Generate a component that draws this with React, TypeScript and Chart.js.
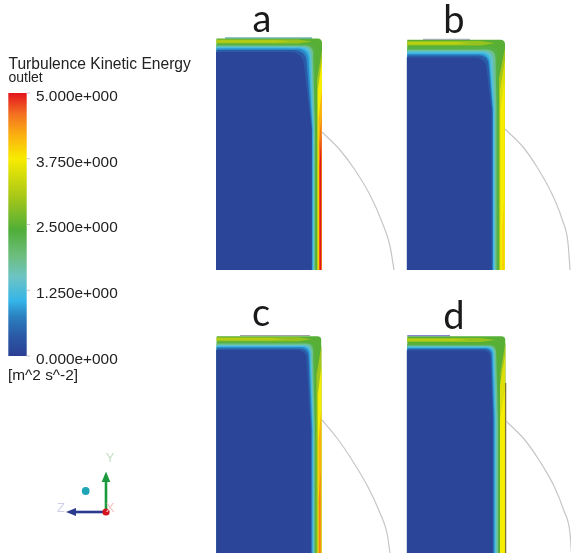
import React, { useEffect, useRef } from "react";
import { Chart, registerables } from "chart.js";

Chart.register(...registerables);

const WIDTH = 571;
const HEIGHT = 553;

// Colour map: value -> colour
const colorLevels = [0, 0.4, 0.75, 1.05, 1.5, 1.9, 2.4, 3.0, 3.75, 4.2, 4.6, 5];
const colorStops = ["#2b3f93", "#2a5ba8", "#2a80c0", "#35b5e8", "#6cc4c4", "#6dbe7f", "#50ae38", "#a4c61a", "#f8ec00", "#fbb010", "#f37021", "#e3141f"];
const legendTicks = [5, 3.75, 2.5, 1.25, 0];
const legendTickLabels = ["5.000e+000", "3.750e+000", "2.500e+000", "1.250e+000", "0.000e+000"];

// Contours falling from the wall to the core
const innerLevels = [2.3, 1.8, 1.4, 1.1, 0.8, 0.4, 0.1];

const aBox = [216.5, 38, 322, 270];
const aTop = [44, 45.5, 46.5, 47.5, 48.5, 50, 52];
const aXTop = [315, 313, 311.5, 310, 308.5, 306.5, 304];
const aXBottom = [316, 315, 314, 313, 312.5, 312, 311.5];
const aRadius = [6, 7, 8, 9, 10, 11, 13];
const aWallLevels = [3.0, 3.75, 4.2, 4.6, 5.0];
const aWallStart = [50, 60, 90, 115, 135];
const aWallInner = [317, 317.8, 318.5, 319, 319.6];
const aWallOuter = [322, 322, 321.8, 321.5, 321.3];

const bBox = [407.3, 39.3, 505, 270];
const bTop = [47, 49.5, 51, 52.5, 54, 55.5, 57.5];
const bXTop = [497.5, 495.5, 493, 490.5, 489.5, 488.5, 486.5];
const bXBottom = [498.5, 496.5, 495, 494, 493, 492.5, 491.5];
const bRadius = [7, 8, 8, 8, 9, 9, 11];
const bWallLevels = [3.0, 3.5, 3.75, 3.95];
const bWallStart = [48, 60, 80, 200];
const bWallInner = [499, 500, 500.5, 502];
const bWallOuter = [505, 505, 504.6, 504];

const cBox = [216.7, 335.7, 321.5, 553];
const cTop = [342, 343.5, 345, 346, 347, 348.5, 350];
const cXTop = [314.5, 313, 311.5, 310.5, 309.5, 308.5, 306.5];
const cXBottom = [316, 314.8, 313.8, 313, 312.3, 311.5, 310.7];
const cRadius = [6, 6, 7, 7, 7, 8, 9];
const cWallLevels = [3.0, 3.75, 4.2, 4.5];
const cWallStart = [345, 365, 410, 470];
const cWallInner = [316.5, 317.8, 318.5, 318.8];
const cWallOuter = [321.5, 321.5, 321.2, 320.6];

const dBox = [407.3, 335.7, 505.5, 553];
const dTop = [344, 345.5, 346.3, 347, 348, 349, 350.5];
const dXTop = [497, 496, 494.5, 493.5, 492.5, 491.5, 490.5];
const dXBottom = [499.2, 498, 496.5, 495.3, 494.5, 493.5, 492.7];
const dRadius = [6, 6, 6, 6, 6, 6, 7];
const dWallLevels = [3.0, 3.5, 3.75];
const dWallStart = [342, 355, 390];
const dWallInner = [500.5, 500, 500];
const dWallOuter = [505.5, 505, 504.8];

// Band along the top wall: value, upper y, lower y, right end
const aRidge = [[2.9, 39.5, 43.5, 312], [3.15, 40.3, 42.5, 290]];
const bRidge = [[2.9, 41, 45.5, 495], [3.2, 42, 44.5, 470]];
const cRidge = [[2.9, 337.2, 341.2, 312], [3.15, 338, 340.3, 285]];
const dRidge = [[2.9, 338, 342, 495], [3.15, 338.8, 341, 470]];

const aKnee = 130;
const bKnee = 110;
const cKnee = 430;
const dKnee = 420;

// Thin line on the top edge: x from, x to, y, colour
const topLines: [number, number, number, string][] = [
  [225, 312, 38, "#2f8f7f"],
  [423, 470, 39.3, "#9aa0a8"],
  [240, 310, 335.5, "#a0a4a8"],
  [407.3, 450, 335.7, "#6b6bc0"],
];

// Circular boundaries
const aArcX = [322, 340, 355, 370, 382, 390, 394];
const aArcY = [132, 150, 170, 195, 222, 246, 270];
const bArcX = [505, 523, 537, 551, 562, 568, 570];
const bArcY = [129, 147, 167, 192, 219, 243, 270];
const cArcX = [322, 337, 352, 368, 380, 387, 390];
const cArcY = [420, 438, 460, 487, 513, 533, 553];
const dArcX = [506, 524, 539, 554, 564, 570, 571.5];
const dArcY = [421, 439, 460, 486, 511, 533, 553];

const dWallLineX = [505.6, 505.6];
const dWallLineY = [383, 553];

// Axis triad
const triadOrigin = [106, 512];
const yArrowTip = [106, 471.5];
const zArrowTip = [66, 512];
const sphere = [85.7, 491];

type P = { x: number; y: number };

function hexToRgb(h: string) {
  return [1, 3, 5].map((i) => parseInt(h.slice(i, i + 2), 16));
}

function colorFor(v: number) {
  let i = 0;
  while (i < colorLevels.length - 2 && v > colorLevels[i + 1]) i++;
  const f = Math.min(1, Math.max(0, (v - colorLevels[i]) / (colorLevels[i + 1] - colorLevels[i])));
  const a = hexToRgb(colorStops[i]);
  const b = hexToRgb(colorStops[i + 1]);
  const c = a.map((q, k) => Math.round(q + (b[k] - q) * f));
  return `rgb(${c[0]},${c[1]},${c[2]})`;
}

function zip(xs: number[], ys: number[]): P[] {
  return xs.map((x, i) => ({ x, y: ys[i] }));
}

function shape(data: P[], color: any, extra: any = {}) {
  return {
    data,
    showLine: true,
    fill: "shape",
    backgroundColor: color,
    borderWidth: 0,
    pointRadius: 0,
    tension: 0,
    ...extra,
  };
}

function stroke(data: P[], color: string, width: number, extra: any = {}) {
  return {
    data,
    showLine: true,
    fill: false,
    borderColor: color,
    borderWidth: width,
    pointRadius: 0,
    tension: 0,
    ...extra,
  };
}

function corner(x: number, t: number, r: number): P[] {
  return [
    { x: x - r, y: t },
    { x: x - r * 0.62, y: t + r * 0.08 },
    { x: x - r * 0.29, y: t + r * 0.29 },
    { x: x - r * 0.08, y: t + r * 0.62 },
    { x, y: t + r },
  ];
}

function panel(
  box: number[], top: number[], xTop: number[], xBottom: number[], radius: number[],
  wallLevels: number[], wallStart: number[], wallInner: number[], wallOuter: number[],
  ridge: number[][], knee: number
) {
  const [l, t, r, b] = box;
  const out: any[] = [];
  out.push(shape([{ x: l, y: t + 0.5 }, ...corner(r, t + 0.5, 4), { x: r, y: b }, { x: l, y: b }], colorFor(2.45)));
  ridge.forEach(([v, y0, y1, xe]) => {
    out.push(shape([{ x: l, y: y0 }, { x: xe - 14, y: y0 }, { x: xe, y: (y0 + y1) / 2 }, { x: xe - 14, y: y1 }, { x: l, y: y1 }], colorFor(v)));
  });
  wallLevels.forEach((v, i) => {
    out.push(shape([
      { x: wallOuter[i], y: wallStart[i] },
      { x: wallInner[i], y: wallStart[i] + 30 },
      { x: wallInner[i], y: b },
      { x: wallOuter[i], y: b },
    ], colorFor(v)));
  });
  innerLevels.forEach((v, i) => {
    const left = i === innerLevels.length - 1 ? l - 0.5 : l;
    out.push(shape([
      { x: left, y: top[i] },
      ...corner(xTop[i], top[i], radius[i]),
      { x: xBottom[i], y: knee },
      { x: xBottom[i], y: b },
      { x: left, y: b },
    ], colorFor(v)));
  });
  return out;
}

export default function App() {
  const ref = useRef<HTMLCanvasElement>(null);
  useEffect(() => {
    const canvas = ref.current!;
    const ctx = canvas.getContext("2d")!;
    const grad = ctx.createLinearGradient(0, 356, 0, 93);
    colorLevels.forEach((v, i) => grad.addColorStop(v / 5, colorStops[i]));

    const arc = { cubicInterpolationMode: "monotone" };
    const datasets: any[] = [
      ...panel(aBox, aTop, aXTop, aXBottom, aRadius, aWallLevels, aWallStart, aWallInner, aWallOuter, aRidge, aKnee),
      ...panel(bBox, bTop, bXTop, bXBottom, bRadius, bWallLevels, bWallStart, bWallInner, bWallOuter, bRidge, bKnee),
      ...panel(cBox, cTop, cXTop, cXBottom, cRadius, cWallLevels, cWallStart, cWallInner, cWallOuter, cRidge, cKnee),
      ...panel(dBox, dTop, dXTop, dXBottom, dRadius, dWallLevels, dWallStart, dWallInner, dWallOuter, dRidge, dKnee),
    ];
    topLines.forEach(([x0, x1, y, c]) => datasets.push(stroke([{ x: x0, y }, { x: x1, y }], c, 1)));
    datasets.push(stroke(zip(dWallLineX, dWallLineY), "#7d7430", 1));
    datasets.push(stroke(zip(aArcX, aArcY), "#c6c6c6", 1.2, arc));
    datasets.push(stroke(zip(bArcX, bArcY), "#c6c6c6", 1.2, arc));
    datasets.push(stroke(zip(cArcX, cArcY), "#c6c6c6", 1.2, arc));
    datasets.push(stroke(zip(dArcX, dArcY), "#c6c6c6", 1.2, arc));

    // Colour bar, on its own value axis
    datasets.push(shape([{ x: 8.3, y: 0 }, { x: 26.7, y: 0 }, { x: 26.7, y: 5 }, { x: 8.3, y: 5 }], grad, { yAxisID: "yLegend" }));
    legendTicks.forEach((v) => datasets.push(stroke([{ x: 26.7, y: v }, { x: 30, y: v }], "#c8c8c8", 1, { yAxisID: "yLegend" })));

    // Axis triad
    const [ox, oy] = triadOrigin;
    datasets.push(stroke([{ x: ox, y: oy }, { x: yArrowTip[0], y: yArrowTip[1] + 8 }], "#1a9a3c", 2.6));
    datasets.push(shape([{ x: yArrowTip[0], y: yArrowTip[1] }, { x: yArrowTip[0] + 4.3, y: yArrowTip[1] + 10.5 }, { x: yArrowTip[0] - 4.3, y: yArrowTip[1] + 10.5 }], "#1a9a3c"));
    datasets.push(stroke([{ x: ox, y: oy }, { x: zArrowTip[0] + 8, y: zArrowTip[1] }], "#2b3a8f", 2.6));
    datasets.push(shape([{ x: zArrowTip[0], y: zArrowTip[1] }, { x: zArrowTip[0] + 10, y: zArrowTip[1] - 4 }, { x: zArrowTip[0] + 10, y: zArrowTip[1] + 4 }], "#2b3a8f"));
    datasets.push({ data: [{ x: ox, y: oy }], pointRadius: 3.6, pointBackgroundColor: "#d2141e", pointBorderWidth: 0, showLine: false });
    datasets.push({ data: [{ x: sphere[0], y: sphere[1] }], pointRadius: 3.9, pointBackgroundColor: "#1fa5b5", pointBorderWidth: 0, showLine: false });

    datasets.forEach((d, i) => { d.order = datasets.length - i; });

    const textPlugin = {
      id: "texts",
      afterDraw(chart: any) {
        const c = chart.ctx;
        const x = chart.scales.x;
        const y = chart.scales.y;
        const yl = chart.scales.yLegend;
        c.save();
        c.textBaseline = "alphabetic";
        c.textAlign = "left";
        c.fillStyle = "#222222";
        c.font = '15.6px "Liberation Sans"';
        c.fillText("Turbulence Kinetic Energy", x.getPixelForValue(8.5), y.getPixelForValue(69));
        c.font = '14px "Liberation Sans"';
        c.fillText("outlet", x.getPixelForValue(8.5), y.getPixelForValue(82));
        c.font = '15.4px "Liberation Sans"';
        legendTicks.forEach((v, i) => {
          c.fillText(legendTickLabels[i], x.getPixelForValue(36), yl.getPixelForValue(v) + 7.8);
        });
        c.font = '15.4px "Liberation Sans"';
        c.fillText("[m^2 s^-2]", x.getPixelForValue(8), y.getPixelForValue(380));

        c.fillStyle = "#1a1a1a";
        c.textAlign = "center";
        c.font = '38px "Lato"';
        c.fillText("a", x.getPixelForValue(262), y.getPixelForValue(31.5));
        c.fillText("b", x.getPixelForValue(454), y.getPixelForValue(32.5));
        c.fillText("c", x.getPixelForValue(261), y.getPixelForValue(326));
        c.fillText("d", x.getPixelForValue(454), y.getPixelForValue(329));

        c.font = '13px "Liberation Sans"';
        c.fillStyle = "#c5e0c5";
        c.fillText("Y", x.getPixelForValue(110), y.getPixelForValue(462));
        c.fillStyle = "#cfcfe8";
        c.fillText("Z", x.getPixelForValue(61), y.getPixelForValue(512));
        c.fillStyle = "#f3c6c6";
        c.fillText("X", x.getPixelForValue(110), y.getPixelForValue(512));
        c.restore();
      },
    };

    const chart = new Chart(canvas, {
      type: "scatter",
      data: { datasets },
      options: {
        animation: false,
        responsive: false,
        layout: { padding: 0, autoPadding: false },
        plugins: { legend: { display: false }, tooltip: { enabled: false }, title: { display: false } },
        scales: {
          x: { type: "linear", min: 0, max: WIDTH, display: false },
          y: { type: "linear", min: 0, max: HEIGHT, reverse: true, display: false },
          yLegend: { type: "linear", min: -(HEIGHT - 356) / 52.6, max: 356 / 52.6, display: false },
        },
      },
      plugins: [textPlugin],
    } as any);
    return () => chart.destroy();
  }, []);
  return (
    <canvas
      ref={ref}
      width={WIDTH}
      height={HEIGHT}
      style={{ position: "fixed", left: 0, top: 0, display: "block", filter: "blur(0.6px)" }}
    />
  );
}
